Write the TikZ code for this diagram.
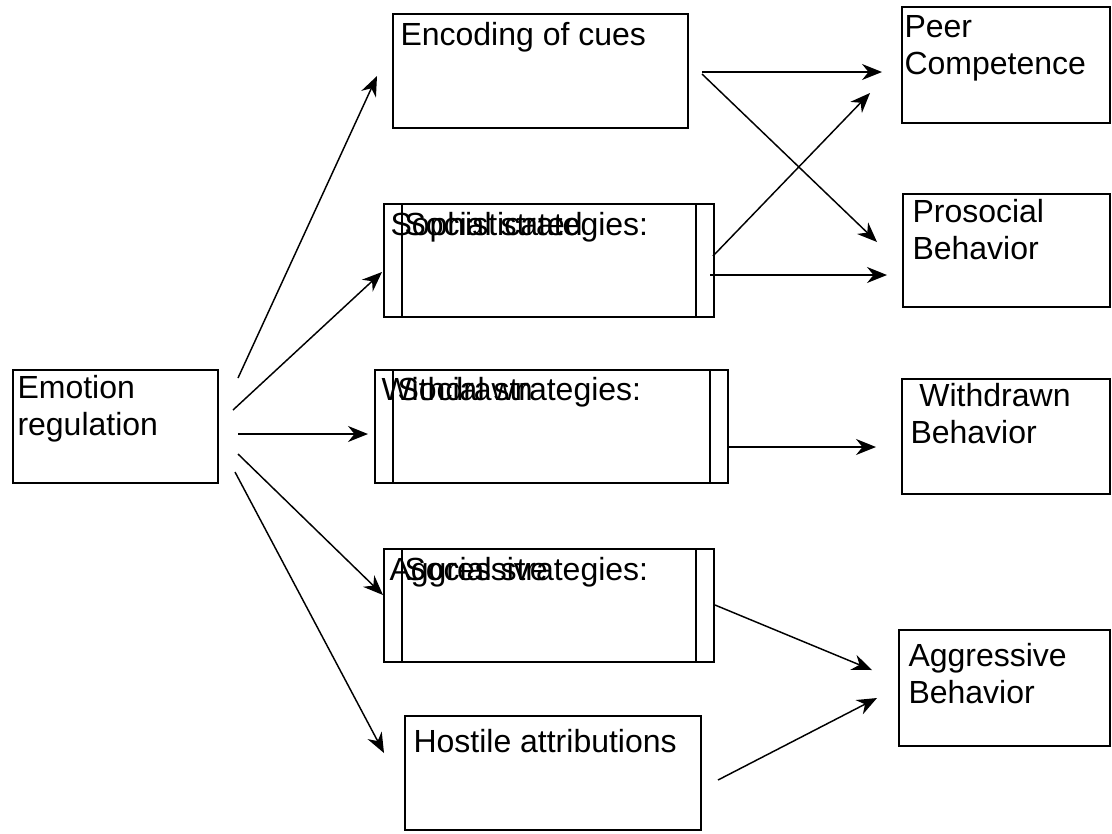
\documentclass[tikz,border=0pt]{standalone}
\usepackage{fontspec}
\setmainfont{Liberation Sans}
\usetikzlibrary{arrows.meta,calc}

\tikzset{every picture/.style={line width=0.75pt}}
\tikzset{
  box/.style={draw, line width=2.2pt, inner sep=0pt, outer sep=0pt},
  txt/.style={anchor=north west, inner sep=0pt, align=left, font=\fontsize{24}{27.75}\selectfont},
  arr/.style={line width=1.1pt, -{Stealth[length=15pt,width=12pt]}}
}

\begin{document}
\begin{tikzpicture}[x=0.75pt,y=0.75pt,yscale=-1,xscale=1]
\useasboundingbox (0,0) rectangle (1112,833);

%Shape: Rectangle [emotion regulation]
\node [box, minimum width=153.75pt, minimum height=84.75pt] (emo) at (115.5,426.5) {};
%Shape: Rectangle [middle column]
\node [box, minimum width=221.25pt, minimum height=85.5pt] (enc) at (540.5,71) {};
\node [box, minimum width=247.5pt, minimum height=84.75pt] (soph) at (549,260.5) {};
\node [box, minimum width=264.75pt, minimum height=84.75pt] (withd) at (551.5,426.5) {};
\node [box, minimum width=247.5pt, minimum height=84.75pt] (aggr) at (549,605.5) {};
\node [box, minimum width=222pt, minimum height=85.5pt] (host) at (553,773) {};
%Shape: Rectangle [outcomes]
\node [box, minimum width=156pt, minimum height=87pt] (peer) at (1006,65) {};
\node [box, minimum width=155.25pt, minimum height=84.75pt] (pros) at (1006.5,250.5) {};
\node [box, minimum width=156pt, minimum height=86.25pt] (wdb) at (1006,436.5) {};
\node [box, minimum width=158.25pt, minimum height=87pt] (agb) at (1004.5,688) {};

%Straight Lines [inner bars of the strategy boxes]
\foreach \b in {soph,withd,aggr}{
  \draw [line width=2.2pt] ([xshift=13.5pt]\b.north west) -- ([xshift=13.5pt]\b.south west);
  \draw [line width=2.2pt] ([xshift=-13.5pt]\b.north east) -- ([xshift=-13.5pt]\b.south east);
}

%Straight Lines [from emotion regulation]
\draw [arr] ($(emo.north east)+(20,8)$) -- ($(enc.west)+(-16,5)$);
\draw [arr] ($(emo.east)+(15,-16.5)$) -- ($(soph.west)+(-2,11.5)$);
\draw [arr] ($(emo.east)+(20,7.5)$) -- ($(withd.west)+(-7,7.5)$);
\draw [arr] ($(emo.east)+(20,27.5)$) -- ($(aggr.west)+(-1,-10.5)$);
\draw [arr] ($(emo.south east)+(17,-11)$) -- ($(host.west)+(-21,-20)$);
%Straight Lines [to outcomes]
\draw [arr] ($(enc.east)+(14,1)$) -- ($(peer.west)+(-20,7)$);
\draw [arr] ($(enc.east)+(14,3)$) -- ($(pros.west)+(-26,-8.5)$);
\draw [arr] ($(soph.east)+(-1,-4.5)$) -- ($(peer.west)+(-32,28)$);
\draw [arr] ($(soph.east)+(-4,14.5)$) -- ($(pros.west)+(-16,24.5)$);
\draw [arr] ($(withd.east)+(0,20.5)$) -- ($(wdb.west)+(-26,10.5)$);
\draw [arr] ($(aggr.east)+(1,-0.5)$) -- ($(agb.west)+(-27,-18)$);
\draw [arr] ($(host.east)+(17,7)$) -- ($(agb.west)+(-22,10)$);

% Text Node
\node [txt] (emo-t) at (17,375) {Emotion\\regulation};
% Text Node
\node [txt] (enc-t) at (400,22) {Encoding of cues};
% Text Node
\node [txt] (soph-t1) at (390,212) {Sophisticated};
\node [txt] (soph-t2) at (404,212) {Social strategies:};
% Text Node
\node [txt] (withd-t1) at (381,377) {Withdrawn};
\node [txt] (withd-t2) at (397,377) {Social strategies:};
% Text Node
\node [txt] (aggr-t1) at (389,557) {Aggressive};
\node [txt] (aggr-t2) at (404,557) {Social strategies:};
% Text Node
\node [txt] (host-t) at (413,729) {Hostile attributions};
% Text Node
\node [txt] (peer-t) at (904,15) {Peer\\Competence};
% Text Node
\node [txt] (pros-t) at (912,199) {Prosocial\\Behavior};
% Text Node
\node [txt] (wdb-t) at (910,383) {\ Withdrawn\\Behavior};
% Text Node
\node [txt] (agb-t) at (908,643) {Aggressive\\Behavior};

\end{tikzpicture}
\end{document}
